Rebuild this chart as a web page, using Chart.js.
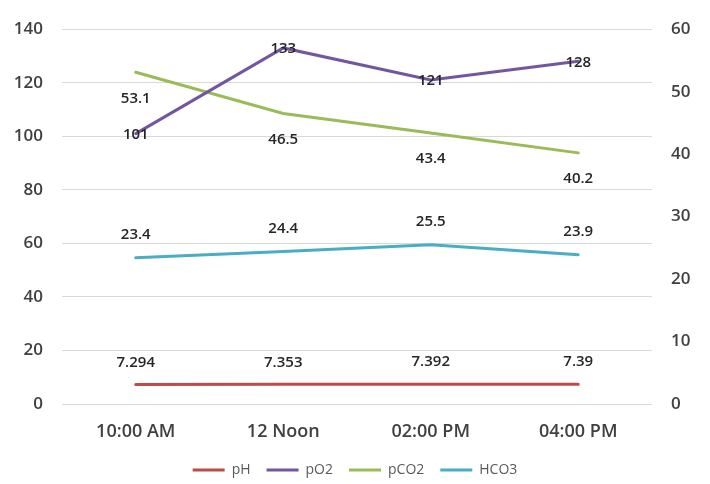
<!DOCTYPE html>
<html>
<head>
<meta charset="utf-8">
<script src="https://cdn.jsdelivr.net/npm/chart.js@4/dist/chart.umd.min.js"></script>
<style>
  html, body { margin: 0; padding: 0; background: #fff; }
</style>
</head>
<body>
<canvas id="abg" width="710" height="484"></canvas>
<script>
// chart data
const times = ['10:00 AM', '12 Noon', '02:00 PM', '04:00 PM'];
const phValues = [7.294, 7.353, 7.392, 7.39];
const po2Values = [101, 133, 121, 128];
const pco2Values = [53.1, 46.5, 43.4, 40.2];
const hco3Values = [23.4, 24.4, 25.5, 23.9];
const leftTicks = [0, 20, 40, 60, 80, 100, 120, 140];
const rightTicks = [0, 10, 20, 30, 40, 50, 60];

const FONT = '"Open Sans", "Liberation Sans", sans-serif';

// where each series puts its value labels, relative to the point
const labelShift = { pH: -22, pO2: 1, pCO2: 26, HCO3: -23 };

const valueLabels = {
    id: 'valueLabels',
    afterDatasetsDraw(chart) {
        const ctx = chart.ctx;
        ctx.save();
        ctx.font = '600 15px ' + FONT;
        ctx.fillStyle = '#262626';
        ctx.textAlign = 'center';
        ctx.textBaseline = 'middle';
        chart.data.datasets.forEach((ds, i) => {
            const meta = chart.getDatasetMeta(i);
            meta.data.forEach((pt, j) => {
                ctx.fillText(String(ds.data[j]), pt.x, pt.y + labelShift[ds.label]);
            });
        });
        ctx.restore();
    }
};

const abgData = {
    labels: times,
    datasets: [
        { label: 'pH', data: phValues, yAxisID: 'y', borderWidth: 3, borderColor: '#BE4B48', backgroundColor: '#BE4B48' },
        { label: 'pO2', data: po2Values, yAxisID: 'y', borderWidth: 3, borderColor: '#7256A0', backgroundColor: '#7256A0' },
        { label: 'pCO2', data: pco2Values, yAxisID: 'y1', borderWidth: 3, borderColor: '#9BBB59', backgroundColor: '#9BBB59' },
        { label: 'HCO3', data: hco3Values, yAxisID: 'y1', borderWidth: 3, borderColor: '#4BACC6', backgroundColor: '#4BACC6' }
    ]
};

const abgConfig = {
    type: 'line',
    data: abgData,
    options: {
        responsive: false,
        animation: false,
        layout: { padding: { top: 27, left: 0, right: 0, bottom: -3 } },
        elements: {
            line: { tension: 0, borderCapStyle: 'round' },
            point: { radius: 0, hoverRadius: 0 }
        },
        plugins: {
            tooltip: { enabled: false },
            legend: {
                position: 'bottom',
                labels: {
                    usePointStyle: true,
                    pointStyle: 'line',
                    pointStyleWidth: 32,
                    padding: 16,
                    color: '#595959',
                    font: { family: FONT, size: 14 }
                }
            }
        },
        scales: {
            x: {
                offset: true,
                grid: { display: false },
                border: { display: false },
                ticks: { color: '#404040', padding: 9, font: { family: FONT, size: 18, weight: '600' } },
                afterFit(scale) { scale.height = 43; }
            },
            y: {
                position: 'left',
                min: 0,
                max: 140,
                afterBuildTicks(scale) { scale.ticks = leftTicks.map(v => ({ value: v })); },
                grid: { color: '#D9D9D9', lineWidth: 1, drawTicks: false },
                border: { display: false },
                ticks: { color: '#404040', padding: 19, font: { family: FONT, size: 17, weight: '600' } },
                afterFit(scale) { scale.width = 62; }
            },
            y1: {
                position: 'right',
                min: 0,
                max: 60,
                afterBuildTicks(scale) { scale.ticks = rightTicks.map(v => ({ value: v })); },
                grid: { drawOnChartArea: false, drawTicks: false },
                border: { display: false },
                ticks: { color: '#404040', padding: 19, font: { family: FONT, size: 17, weight: '600' } },
                afterFit(scale) { scale.width = 58; }
            }
        }
    },
    plugins: [valueLabels]
};

const abgChart = new Chart(document.getElementById('abg'), abgConfig);
</script>
</body>
</html>
